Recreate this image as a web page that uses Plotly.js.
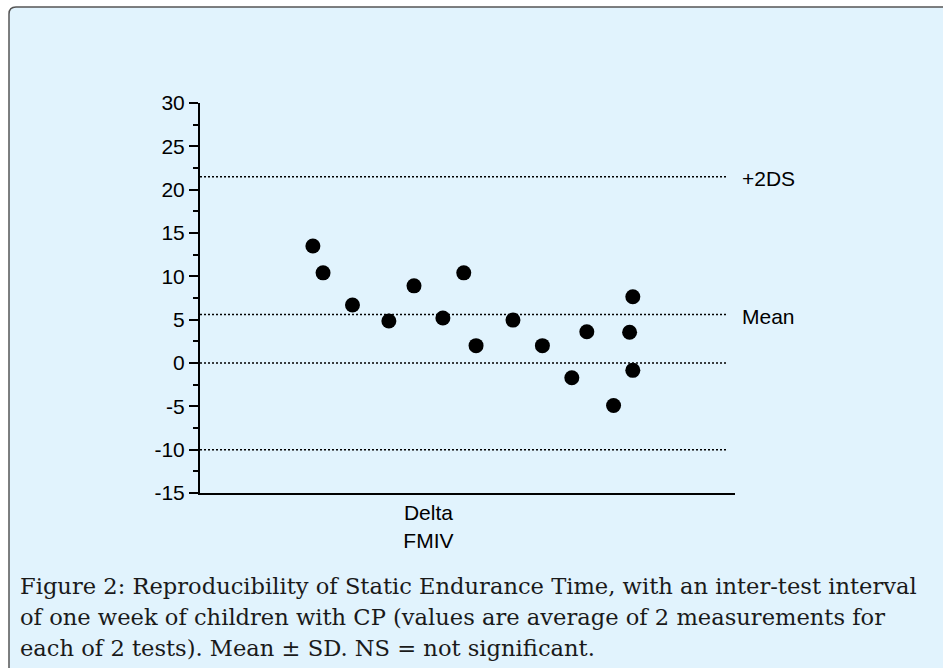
<!DOCTYPE html>
<html>
<head>
<meta charset="utf-8">
<script src="https://cdn.plot.ly/plotly-3.0.1.min.js"></script>
<style>
  html, body { margin: 0; padding: 0; background: #ffffff; }
  #chart { width: 943px; height: 668px; }
</style>
</head>
<body>
<div id="chart"></div>
<script>
// ---- data ----
const pointX = [2.11, 2.30, 2.85, 3.53, 4.00, 4.54, 4.93, 5.16, 5.85, 6.40, 6.95, 7.23, 7.73, 8.03, 8.09, 8.09];
const pointY = [13.5, 10.4, 6.7, 4.85, 8.9, 5.2, 10.4, 2.0, 4.95, 2.0, -1.7, 3.6, -4.9, 3.55, 7.65, -0.85];
const refValues = [21.5, 5.6, 0, -10];
const refLabels = ['+2DS', 'Mean', '', ''];
const categoryX = [4.27];
const categoryLabels = ['Delta<br>FMIV'];
const yTickVals = [-15, -10, -5, 0, 5, 10, 15, 20, 25, 30];
const yTickText = ['-15', '-10', '-5', '0', '5', '10', '15', '20', '25', '30'];
const captionLines = [
  'Figure 2: Reproducibility of Static Endurance Time, with an inter-test interval',
  'of one week of children with CP (values are average of 2 measurements for',
  'each of 2 tests). Mean \u00b1 SD. NS = not significant.'
];

// ---- layout geometry (pixels) ----
const W = 943, H = 668;
const L = 200, R = 735, T = 103, B = 493;
const xp = px => (px - L) / (R - L);
const yp = py => (B - py) / (B - T);

const sansFont = 'Liberation Sans, Arial, sans-serif';
const serifFont = 'DejaVu Serif, Liberation Serif, serif';

// rounded panel (extends beyond right/bottom edges)
const bx0 = 9, by0 = 7, bx1 = 980, by1 = 700, rad = 7;
const panelPath = 'M ' + xp(bx0) + ',' + yp(by1) +
  ' L ' + xp(bx0) + ',' + yp(by0 + rad) +
  ' Q ' + xp(bx0) + ',' + yp(by0) + ' ' + xp(bx0 + rad) + ',' + yp(by0) +
  ' L ' + xp(bx1) + ',' + yp(by0) +
  ' L ' + xp(bx1) + ',' + yp(by1) + ' Z';

const shapes = [{
  type: 'path', xref: 'paper', yref: 'paper', path: panelPath,
  fillcolor: '#e1f3fd', line: { color: '#555555', width: 1.5 }, layer: 'below'
}];
refValues.forEach(v => {
  shapes.push({
    type: 'line', xref: 'paper', yref: 'y', x0: 0, x1: xp(726), y0: v, y1: v,
    line: { color: '#000000', width: 1.5, dash: '2px,2px' }, layer: 'below'
  });
});

const annotations = [];
refValues.forEach((v, i) => {
  if (refLabels[i]) {
    annotations.push({
      xref: 'paper', yref: 'y', x: xp(740), y: v, yshift: -2,
      xanchor: 'left', yanchor: 'middle', showarrow: false,
      text: refLabels[i], font: { family: sansFont, size: 21, color: '#000000' }
    });
  }
});
const capBaseline = [595, 626, 657];
captionLines.forEach((t, i) => {
  annotations.push({
    xref: 'paper', yref: 'paper', x: xp(18), y: yp(capBaseline[i] + 6),
    xanchor: 'left', yanchor: 'bottom', showarrow: false,
    text: t, font: { family: serifFont, size: 22.6, color: '#1a1a1a' }
  });
});

const trace = {
  type: 'scatter', mode: 'markers', x: pointX, y: pointY,
  marker: { color: '#000000', size: 15, symbol: 'circle' },
  hoverinfo: 'skip', showlegend: false
};

const layout = {
  width: W, height: H,
  margin: { l: L, r: W - R, t: T, b: H - B, pad: 0 },
  paper_bgcolor: '#ffffff',
  plot_bgcolor: 'rgba(0,0,0,0)',
  font: { family: sansFont, size: 21, color: '#000000' },
  showlegend: false,
  xaxis: {
    range: [0, 10], showgrid: false, zeroline: false,
    showline: true, linecolor: '#000000', linewidth: 2,
    ticks: '', tickmode: 'array', tickvals: categoryX, ticktext: categoryLabels,
    tickfont: { family: sansFont, size: 21, color: '#000000' }, fixedrange: true
  },
  yaxis: {
    range: [-15, 30], showgrid: false, zeroline: false,
    showline: true, linecolor: '#000000', linewidth: 2,
    ticks: 'outside', ticklen: 9, tickwidth: 2, tickcolor: '#000000',
    tickmode: 'array', tickvals: yTickVals, ticktext: yTickText,
    minor: { dtick: 2.5, tick0: 0, ticks: 'outside', ticklen: 5, tickwidth: 2, tickcolor: '#000000', showgrid: false },
    tickfont: { family: sansFont, size: 21, color: '#000000' }, fixedrange: true
  },
  shapes: shapes,
  annotations: annotations
};

Plotly.newPlot('chart', [trace], layout, { displayModeBar: false, staticPlot: true });
</script>
</body>
</html>
